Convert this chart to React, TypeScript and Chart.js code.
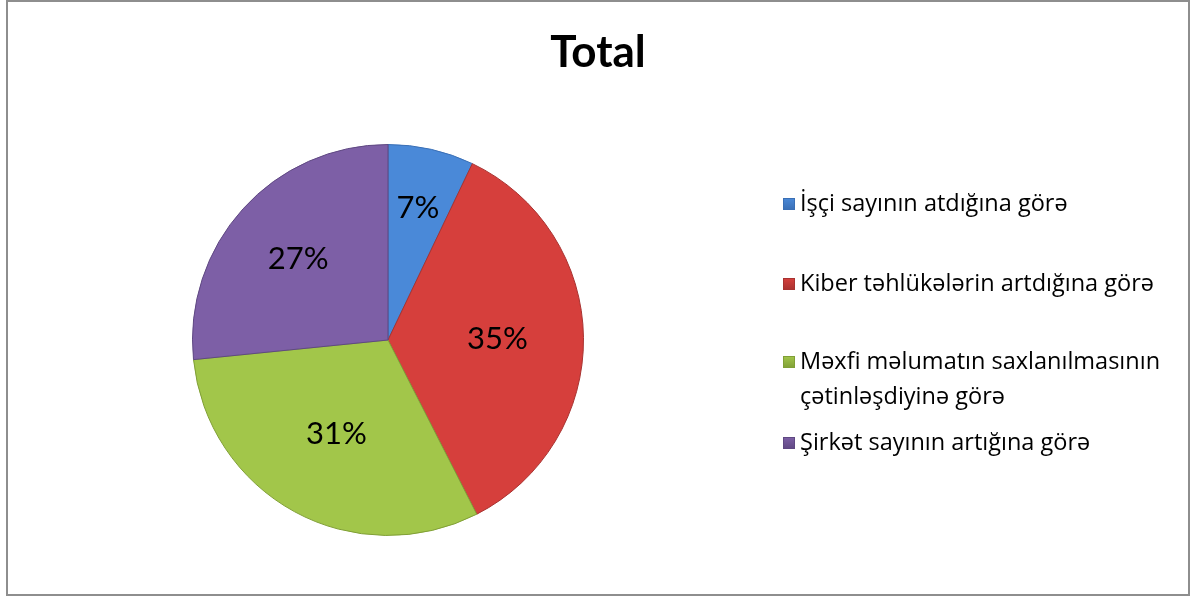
import React, { useEffect, useRef } from "react";
import { Chart, registerables } from "chart.js";

Chart.register(...registerables);

const TITLE = "Total";
const categories = [
  "İşçi sayının atdığına görə",
  "Kiber təhlükələrin artdığına görə",
  "Məxfi məlumatın saxlanılmasının çətinləşdiyinə görə",
  "Şirkət sayının artığına görə",
];
const values = [7.1, 35.4, 30.9, 26.6];
const colors = ["#4a89d8", "#d63f3c", "#a2c64a", "#7d5fa6"];
const borderColors = ["#3a6fb5", "#a83230", "#809f36", "#5f4882"];
const labelRadiusFactors = [0.69, 0.56, 0.55, 0.62];
const legendRowY = [204, 284, 362, 443];

const FONT = "Lato, 'Open Sans', sans-serif";
const LEGEND_FONT = "'Open Sans', Lato, sans-serif";

const titlePlugin = {
  id: "customTitle",
  afterDraw(chart: any) {
    const ctx = chart.ctx;
    ctx.save();
    ctx.font = `bold 44px ${FONT}`;
    ctx.fillStyle = "#000";
    ctx.textAlign = "center";
    ctx.textBaseline = "alphabetic";
    ctx.fillText(TITLE, 598, 67);
    ctx.restore();
  },
};

const dataLabelPlugin = {
  id: "pctLabels",
  afterDatasetsDraw(chart: any) {
    const ctx = chart.ctx;
    const meta = chart.getDatasetMeta(0);
    const data = chart.data.datasets[0].data as number[];
    const total = data.reduce((a, b) => a + b, 0);
    ctx.save();
    ctx.font = `31px ${FONT}`;
    ctx.fillStyle = "#000";
    ctx.textAlign = "center";
    ctx.textBaseline = "middle";
    meta.data.forEach((arc: any, i: number) => {
      const p = arc.getProps(["x", "y", "startAngle", "endAngle", "outerRadius"], true);
      const mid = (p.startAngle + p.endAngle) / 2;
      const r = p.outerRadius * labelRadiusFactors[i];
      const pct = Math.round((data[i] / total) * 100) + "%";
      ctx.fillText(pct, p.x + Math.cos(mid) * r, p.y + Math.sin(mid) * r);
    });
    ctx.restore();
  },
};

function wrapText(ctx: CanvasRenderingContext2D, text: string, maxW: number): string[] {
  const words = text.split(" ");
  const lines: string[] = [];
  let cur = "";
  for (const w of words) {
    const test = cur ? cur + " " + w : w;
    if (ctx.measureText(test).width > maxW && cur) {
      lines.push(cur);
      cur = w;
    } else {
      cur = test;
    }
  }
  if (cur) lines.push(cur);
  return lines;
}

const legendPlugin = {
  id: "customLegend",
  afterDraw(chart: any) {
    const ctx = chart.ctx;
    const labels = chart.data.labels as string[];
    const ds = chart.data.datasets[0];
    ctx.save();
    ctx.font = `23.5px ${LEGEND_FONT}`;
    ctx.textBaseline = "middle";
    ctx.textAlign = "left";
    labels.forEach((lab, i) => {
      const y = legendRowY[i];
      const bx = 783;
      const s = 12;
      const g = ctx.createLinearGradient(bx, y - s / 2, bx, y + s / 2);
      g.addColorStop(0, ds.backgroundColor[i]);
      g.addColorStop(1, ds.borderColor[i]);
      ctx.fillStyle = g;
      ctx.fillRect(bx, y - s / 2, s, s);
      ctx.strokeStyle = ds.borderColor[i];
      ctx.lineWidth = 1;
      ctx.strokeRect(bx + 0.5, y - s / 2 + 0.5, s - 1, s - 1);
      ctx.fillStyle = "#000";
      const lines = wrapText(ctx, lab, 380);
      lines.forEach((ln, j) => {
        ctx.fillText(ln, 800, y + j * 35);
      });
    });
    ctx.restore();
  },
};

export default function App() {
  const ref = useRef<HTMLCanvasElement>(null);
  useEffect(() => {
    if (!ref.current) return;
    const chart = new Chart(ref.current, {
      type: "pie",
      data: {
        labels: categories,
        datasets: [
          {
            data: values,
            backgroundColor: colors,
            borderColor: borderColors,
            borderWidth: 1,
          },
        ],
      },
      options: {
        animation: false,
        responsive: false,
        devicePixelRatio: 1,
        events: [],
        layout: { padding: { left: 192, top: 144, right: 613, bottom: 60 } },
        plugins: {
          legend: { display: false },
          title: { display: false },
          tooltip: { enabled: false },
        },
      },
      plugins: [titlePlugin, dataLabelPlugin, legendPlugin],
    });
    return () => chart.destroy();
  }, []);

  return (
    <div style={{ position: "absolute", left: 0, top: 0, width: 1197, height: 596, background: "#fff" }}>
      <canvas ref={ref} width={1197} height={596} style={{ position: "absolute", left: 0, top: 0 }} />
      <div
        style={{
          position: "absolute",
          left: 6,
          top: 0,
          width: 1184,
          height: 596,
          boxSizing: "border-box",
          border: "2px solid #8e8e8e",
          pointerEvents: "none",
        }}
      />
    </div>
  );
}
